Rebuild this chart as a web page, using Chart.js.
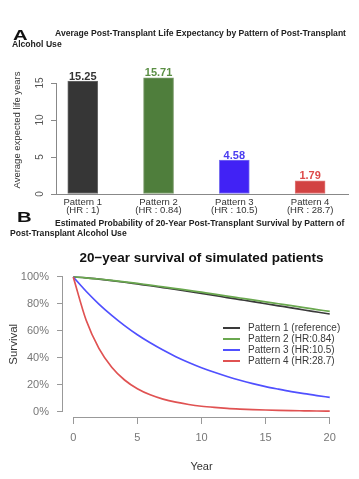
<!DOCTYPE html>
<html><head><meta charset="utf-8">
<script src="https://cdn.jsdelivr.net/npm/chart.js@4.4.1/dist/chart.umd.min.js"></script>
<style>
html,body{margin:0;padding:0;background:#fff;width:359px;height:479px;overflow:hidden;font-family:"Liberation Sans",Arial,Helvetica,sans-serif;}
.abs{position:absolute;white-space:nowrap;}
canvas{position:absolute;left:0;}
#cA{top:0;}
#cB{top:240px;}
.pl{font-weight:bold;font-size:15px;line-height:15px;color:#111;transform:scaleX(1.35);transform-origin:left top;}
.ht{font-weight:bold;font-size:8.6px;line-height:10px;color:#222;}
#ttl{font-weight:bold;font-size:13.5px;line-height:16px;color:#111;left:63px;width:277px;text-align:center;top:250px;}
#legend{left:223px;top:322px;font-size:10px;color:#3a3a3a;}
#legend .row{height:11px;line-height:11px;position:relative;}
#legend .ln{position:absolute;left:0;top:5px;width:17px;height:2px;}
#legend .tx{position:absolute;left:25px;top:0;}
</style></head><body>
<canvas id="cA" width="359" height="240"></canvas>
<canvas id="cB" width="359" height="239"></canvas>
<div class="abs pl" style="left:13px;top:27px">A</div>
<div class="abs ht" style="left:55px;top:28px">Average Post-Transplant Life Expectancy by Pattern of Post-Transplant</div>
<div class="abs ht" style="left:12px;top:39px">Alcohol Use</div>
<div class="abs pl" style="left:17px;top:209px">B</div>
<div class="abs ht" style="left:55px;top:218px">Estimated Probability of 20-Year Post-Transplant Survival by Pattern of</div>
<div class="abs ht" style="left:10px;top:228px">Post-Transplant Alcohol Use</div>
<div class="abs" id="ttl">20−year survival of simulated patients</div>
<div class="abs" id="legend"></div>
<script>
// ---- Panel A data ----
const categories = ['Pattern 1', 'Pattern 2', 'Pattern 3', 'Pattern 4'];
const hrLabels = ['(HR : 1)', '(HR : 0.84)', '(HR : 10.5)', '(HR : 28.7)'];
const lifeYears = [15.25, 15.71, 4.58, 1.79];
const yTicksA = [0, 5, 10, 15];

// ---- Panel B data ----
const years = [0,1,2,3,4,5,6,7,8,9,10,11,12,13,14,15,16,17,18,19,20];
const surv1 = [100,99.35,98.4,97.3,96.1,94.8,93.5,92.1,90.7,89.2,87.8,86.3,84.7,83.2,81.7,80.1,78.6,77.1,75.5,74.0,72.5];
const surv2 = [100,99.4,98.5,97.5,96.4,95.2,94.0,92.7,91.4,90.1,88.7,87.3,85.8,84.4,83.0,81.5,80.1,78.7,77.2,75.8,74.4];
const surv3 = [100,89.4,79.9,71.5,63.9,57.1,51.1,45.7,40.8,36.5,32.6,29.2,26.1,23.3,20.8,18.6,16.7,14.9,13.3,11.9,10.6];
const surv4 = [100,68,47,33,23.5,17,12.5,9.3,7,5.3,4,3.1,2.4,1.9,1.5,1.2,0.95,0.75,0.6,0.45,0.35];
const legendLabels = ['Pattern 1 (reference)', 'Pattern 2 (HR:0.84)', 'Pattern 3 (HR:10.5)', 'Pattern 4 (HR:28.7)'];
const yTicksB = [0, 20, 40, 60, 80, 100];
const xTicksB = [0, 5, 10, 15, 20];

// ---- styles ----
const barColors = ['#363636', '#4f7e3c', '#4122f5', '#d24343'];
const barBorders = ['#6a6a6a', '#7a9a6a', '#7a70f0', '#e07a7a'];
const valueColors = ['#333333', '#5b8f45', '#4a3cf0', '#dd4a4a'];
const lineColors = ['#3a3a3a', '#6aa84f', '#5050ff', '#e05252'];
const FONT = '"Liberation Sans", Arial, Helvetica, sans-serif';
Chart.defaults.font.family = FONT;

const rAxis = {
  id: 'rAxis',
  afterDraw(chart, args, opts) {
    const ctx = chart.ctx;
    (opts.scales || []).forEach(id => {
      const s = chart.scales[id];
      const t = s.ticks;
      const a = s.getPixelForValue(t[0].value);
      const b = s.getPixelForValue(t[t.length - 1].value);
      ctx.save();
      ctx.strokeStyle = opts.color;
      ctx.lineWidth = 1;
      ctx.beginPath();
      if (s.isHorizontal()) {
        const y = Math.round(s.top) + 0.5;
        ctx.moveTo(a, y); ctx.lineTo(b, y);
      } else {
        const x = Math.round(s.right) - 0.5;
        ctx.moveTo(x, a); ctx.lineTo(x, b);
      }
      ctx.stroke();
      ctx.restore();
    });
  }
};

const barLabels = {
  id: 'barLabels',
  afterDatasetsDraw(chart) {
    const meta = chart.getDatasetMeta(0);
    const ctx = chart.ctx;
    ctx.save();
    ctx.font = 'bold 11px ' + FONT;
    ctx.textAlign = 'center';
    ctx.textBaseline = 'alphabetic';
    meta.data.forEach((bar, i) => {
      ctx.fillStyle = valueColors[i];
      ctx.fillText(lifeYears[i].toFixed(2), bar.x, bar.y - 1.5);
    });
    ctx.restore();
  }
};

new Chart(document.getElementById('cA'), {
  type: 'bar',
  data: {
    datasets: [{
      data: lifeYears.map((v, i) => ({ x: i + 1, y: v })),
      backgroundColor: barColors,
      borderColor: barBorders,
      borderWidth: 1,
      borderSkipped: false,
      barThickness: 30,
      clip: false
    }]
  },
  options: {
    responsive: false,
    animation: false,
    layout: { padding: { top: 66, right: 11, left: 0, bottom: 0 } },
    plugins: { legend: { display: false }, tooltip: { enabled: false }, rAxis: { scales: ['y'], color: '#888' } },
    scales: {
      x: {
        type: 'linear', min: 0.66, max: 4.5, offset: false,
        afterBuildTicks: s => { s.ticks = categories.map((c, i) => ({ value: i + 1 })); },
        afterFit: s => { s.height = 46; },
        grid: { display: false, drawTicks: false, offset: false },
        border: { display: true, color: '#888', width: 1 },
        ticks: {
          autoSkip: false, maxRotation: 0, minRotation: 0, padding: 4, color: '#333',
          font: { size: 9.5, lineHeight: 0.9 },
          callback: v => [categories[v - 1], hrLabels[v - 1]]
        }
      },
      y: {
        min: 0, max: 17.3,
        afterBuildTicks: s => { s.ticks = yTicksA.map(v => ({ value: v })); },
        afterFit: s => { s.width = 57; },
        grid: { drawOnChartArea: false, drawTicks: true, tickLength: 6, color: '#888' },
        border: { display: false },
        ticks: { minRotation: 90, maxRotation: 90, crossAlign: 'center', padding: 5, color: '#555', font: { size: 10 } },
        title: { display: true, text: 'Average expected life years', color: '#333', font: { size: 9.5 }, padding: { top: 12, bottom: 0 } }
      }
    }
  },
  plugins: [rAxis, barLabels]
});

const seriesB = [surv1, surv2, surv3, surv4];
new Chart(document.getElementById('cB'), {
  type: 'line',
  data: {
    datasets: seriesB.map((s, i) => ({
      label: legendLabels[i],
      data: years.map((t, j) => ({ x: t, y: s[j] })),
      borderColor: lineColors[i],
      borderWidth: 1.7,
      pointRadius: 0,
      cubicInterpolationMode: 'monotone',
      fill: false,
      order: seriesB.length - i
    }))
  },
  options: {
    responsive: false,
    animation: false,
    layout: { padding: { top: 31.6, right: 19, left: 0, bottom: 0 } },
    plugins: { legend: { display: false }, tooltip: { enabled: false }, rAxis: { scales: ['x', 'y'], color: '#999' } },
    scales: {
      x: {
        type: 'linear', min: -0.8, max: 20.8,
        afterBuildTicks: s => { s.ticks = xTicksB.map(v => ({ value: v })); },
        afterFit: s => { s.height = 62; },
        grid: { drawOnChartArea: false, drawTicks: true, tickLength: 7, color: '#999' },
        border: { display: false },
        ticks: { color: '#777', font: { size: 11 }, padding: 7.4, maxRotation: 0 },
        title: { display: true, text: 'Year', color: '#333', font: { size: 11 }, padding: { top: 0, bottom: 5 } }
      },
      y: {
        min: -4, max: 104,
        afterBuildTicks: s => { s.ticks = yTicksB.map(v => ({ value: v })); },
        afterFit: s => { s.width = 63; },
        grid: { drawOnChartArea: false, drawTicks: true, tickLength: 6, color: '#999' },
        border: { display: false },
        ticks: { color: '#777', font: { size: 11 }, padding: 8, callback: v => v + '%' },
        title: { display: true, text: 'Survival', color: '#333', font: { size: 11.5 }, padding: { top: 7, bottom: 0 } }
      }
    }
  },
  plugins: [rAxis]
});

// legend (HTML) built from the series labels/colours
const lg = document.getElementById('legend');
legendLabels.forEach((t, i) => {
  const r = document.createElement('div');
  r.className = 'row';
  r.innerHTML = '<span class="ln" style="background:' + lineColors[i] + '"></span><span class="tx">' + t + '</span>';
  lg.appendChild(r);
});
</script>
</body></html>
